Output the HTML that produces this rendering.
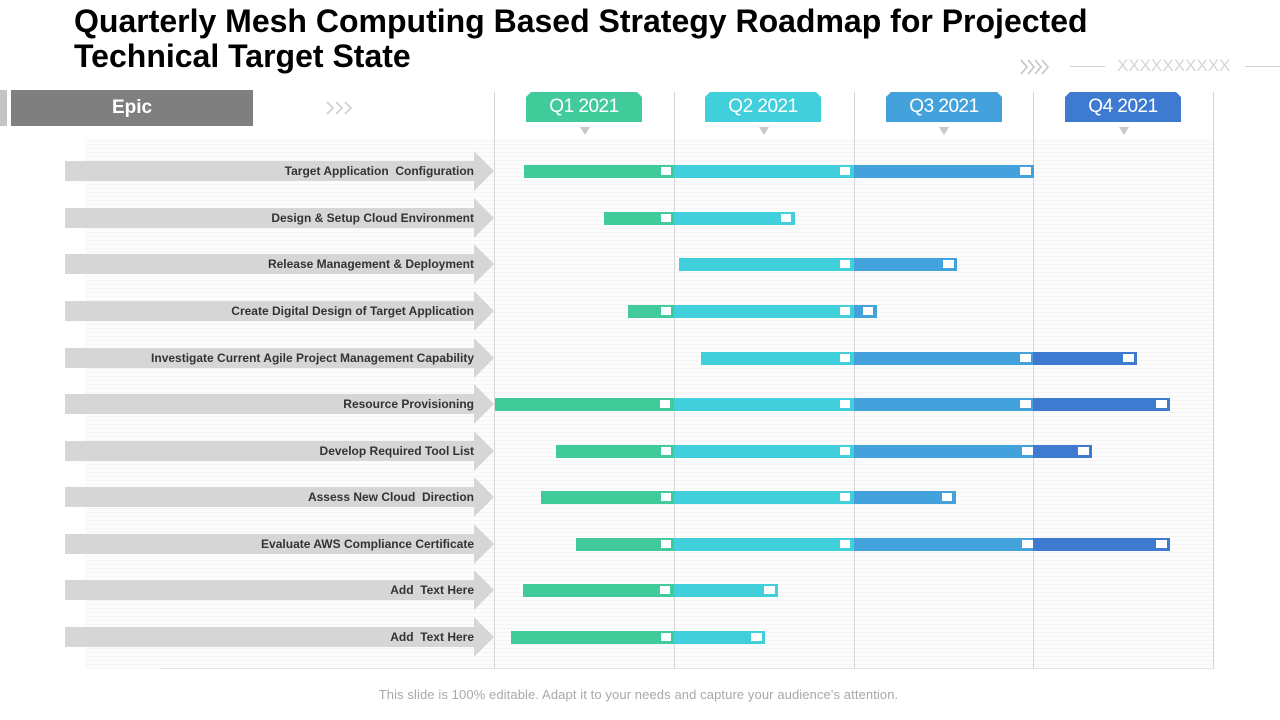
<!DOCTYPE html>
<html><head><meta charset="utf-8"><style>
*{margin:0;padding:0;box-sizing:border-box}
body{width:1280px;height:720px;background:#fff;position:relative;overflow:hidden;font-family:"Liberation Sans",Arial,sans-serif}
.abs{position:absolute}
.title{left:74px;top:4px;font-size:32px;font-weight:bold;line-height:35px;color:#000;white-space:nowrap}
.bg{left:85px;top:140px;width:1128px;height:529px;background:repeating-linear-gradient(180deg,#f5f5f5 0px,#f5f5f5 1px,#fcfcfc 1px,#fcfcfc 4px);}
.vl{width:1px;top:92px;height:577px;background:#d6d6d6}
.q{top:92px;width:116px;height:30px;color:#fff;font-size:19px;text-align:center;line-height:30px;clip-path:polygon(5px 0,calc(100% - 5px) 0,100% 5px,100% 100%,0 100%,0 5px);letter-spacing:-0.5px}
.tri{top:127px;width:0;height:0;border-left:5px solid transparent;border-right:5px solid transparent;border-top:8px solid #c8c8c8}
.lbar{left:65px;width:409px;height:20px;background:#d6d6d6}
.lhead{left:474px;width:0;height:0;border-top:20px solid transparent;border-bottom:20px solid transparent;border-left:20px solid #d6d6d6}
.ltxt{right:806px;font-size:12px;font-weight:bold;color:#333;white-space:pre;line-height:20px;text-align:right}
.seg{height:13px}
.mk{height:8px;background:#fff}
</style></head><body>
<div class="abs title">Quarterly Mesh Computing Based Strategy Roadmap for Projected<br>Technical Target State</div>

<!-- top right decoration -->
<svg class="abs" style="left:1018px;top:58px" width="38" height="18" viewBox="0 0 38 18">
<g fill="none" stroke="#c4c4c4" stroke-width="1.6">
<polyline points="3,2 9,9 3,16"/><polyline points="10,2 16,9 10,16"/><polyline points="17,2 23,9 17,16"/><polyline points="24,2 30,9 24,16"/>
</g></svg>
<div class="abs" style="left:1070px;top:66px;width:35px;height:1px;background:#d0d0d0"></div>
<div class="abs" style="left:1117px;top:56px;font-size:17px;color:#d6d6d6;letter-spacing:0px">XXXXXXXXXX</div>
<div class="abs" style="left:1245px;top:66px;width:35px;height:1px;background:#d0d0d0"></div>

<!-- Epic header -->
<div class="abs" style="left:0;top:90px;width:7px;height:36px;background:#c4c4c4"></div>
<div class="abs" style="left:11px;top:90px;width:242px;height:36px;background:#7f7f7f;color:#fff;font-weight:bold;font-size:19px;text-align:center;line-height:36px">Epic</div>
<svg class="abs" style="left:325px;top:100px" width="34" height="16" viewBox="0 0 34 16">
<g fill="none" stroke="#d0d0d0" stroke-width="1.6">
<polyline points="2,2 8,8 2,14"/><polyline points="11,2 17,8 11,14"/><polyline points="20,2 26,8 20,14"/>
</g></svg>

<div class="abs bg"></div>
<div class="abs" style="left:160px;top:668px;width:1054px;height:1px;background:#e6e6e6"></div>

<div class="abs vl" style="left:494px"></div>
<div class="abs vl" style="left:674px"></div>
<div class="abs vl" style="left:854px"></div>
<div class="abs vl" style="left:1033px"></div>
<div class="abs vl" style="left:1213px"></div>

<div class="abs q" style="left:526px;background:#41CA9A">Q1 2021</div>
<div class="abs q" style="left:705px;background:#40CFDB">Q2 2021</div>
<div class="abs q" style="left:886px;background:#43A2DC">Q3 2021</div>
<div class="abs q" style="left:1065px;background:#3E7AD0">Q4 2021</div>
<div class="abs tri" style="left:580px"></div>
<div class="abs tri" style="left:759px"></div>
<div class="abs tri" style="left:939px"></div>
<div class="abs tri" style="left:1119px"></div>

<div class="abs" style="left:0;width:1277px;top:687px;text-align:center;font-size:13px;color:#a8a8a8;letter-spacing:0.1px">This slide is 100% editable. Adapt it to your needs and capture your audience's attention.</div>

<!-- Rows -->
<div class="abs lbar" style="top:161px"></div><div class="abs lhead" style="top:151px"></div><div class="abs ltxt" style="top:161px">Target Application  Configuration</div>
<div class="abs lbar" style="top:208px"></div><div class="abs lhead" style="top:198px"></div><div class="abs ltxt" style="top:208px">Design &amp; Setup Cloud Environment</div>
<div class="abs lbar" style="top:254px"></div><div class="abs lhead" style="top:244px"></div><div class="abs ltxt" style="top:254px">Release Management &amp; Deployment</div>
<div class="abs lbar" style="top:301px"></div><div class="abs lhead" style="top:291px"></div><div class="abs ltxt" style="top:301px">Create Digital Design of Target Application</div>
<div class="abs lbar" style="top:348px"></div><div class="abs lhead" style="top:338px"></div><div class="abs ltxt" style="top:348px">Investigate Current Agile Project Management Capability</div>
<div class="abs lbar" style="top:394px"></div><div class="abs lhead" style="top:384px"></div><div class="abs ltxt" style="top:394px">Resource Provisioning</div>
<div class="abs lbar" style="top:441px"></div><div class="abs lhead" style="top:431px"></div><div class="abs ltxt" style="top:441px">Develop Required Tool List</div>
<div class="abs lbar" style="top:487px"></div><div class="abs lhead" style="top:477px"></div><div class="abs ltxt" style="top:487px">Assess New Cloud  Direction</div>
<div class="abs lbar" style="top:534px"></div><div class="abs lhead" style="top:524px"></div><div class="abs ltxt" style="top:534px">Evaluate AWS Compliance Certificate</div>
<div class="abs lbar" style="top:580px"></div><div class="abs lhead" style="top:570px"></div><div class="abs ltxt" style="top:580px">Add  Text Here</div>
<div class="abs lbar" style="top:627px"></div><div class="abs lhead" style="top:617px"></div><div class="abs ltxt" style="top:627px">Add  Text Here</div>

<!-- row1 -->
<div class="abs seg" style="top:165px;left:524px;width:150px;background:#41CA9A"></div>
<div class="abs seg" style="top:165px;left:674px;width:180px;background:#40CFDB"></div>
<div class="abs seg" style="top:165px;left:854px;width:180px;background:#43A2DC"></div>
<div class="abs mk" style="top:167px;left:661px;width:10px"></div>
<div class="abs mk" style="top:167px;left:840px;width:10px"></div>
<div class="abs mk" style="top:167px;left:1020px;width:11px"></div>

<!-- row2 -->
<div class="abs seg" style="top:212px;left:604px;width:70px;background:#41CA9A"></div>
<div class="abs seg" style="top:212px;left:674px;width:121px;background:#40CFDB"></div>
<div class="abs mk" style="top:214px;left:661px;width:10px"></div>
<div class="abs mk" style="top:214px;left:781px;width:10px"></div>

<!-- row3 -->
<div class="abs seg" style="top:258px;left:679px;width:175px;background:#40CFDB"></div>
<div class="abs seg" style="top:258px;left:854px;width:103px;background:#43A2DC"></div>
<div class="abs mk" style="top:260px;left:840px;width:10px"></div>
<div class="abs mk" style="top:260px;left:943px;width:11px"></div>

<!-- row4 -->
<div class="abs seg" style="top:305px;left:628px;width:46px;background:#41CA9A"></div>
<div class="abs seg" style="top:305px;left:674px;width:180px;background:#40CFDB"></div>
<div class="abs seg" style="top:305px;left:854px;width:23px;background:#43A2DC"></div>
<div class="abs mk" style="top:307px;left:661px;width:10px"></div>
<div class="abs mk" style="top:307px;left:840px;width:10px"></div>
<div class="abs mk" style="top:307px;left:863px;width:10px"></div>

<!-- row5 -->
<div class="abs seg" style="top:352px;left:701px;width:153px;background:#40CFDB"></div>
<div class="abs seg" style="top:352px;left:854px;width:179px;background:#43A2DC"></div>
<div class="abs seg" style="top:352px;left:1033px;width:104px;background:#3E7AD0"></div>
<div class="abs mk" style="top:354px;left:840px;width:10px"></div>
<div class="abs mk" style="top:354px;left:1020px;width:11px"></div>
<div class="abs mk" style="top:354px;left:1123px;width:11px"></div>

<!-- row6 -->
<div class="abs seg" style="top:398px;left:495px;width:179px;background:#41CA9A"></div>
<div class="abs seg" style="top:398px;left:674px;width:180px;background:#40CFDB"></div>
<div class="abs seg" style="top:398px;left:854px;width:179px;background:#43A2DC"></div>
<div class="abs seg" style="top:398px;left:1033px;width:137px;background:#3E7AD0"></div>
<div class="abs mk" style="top:400px;left:660px;width:10px"></div>
<div class="abs mk" style="top:400px;left:840px;width:10px"></div>
<div class="abs mk" style="top:400px;left:1020px;width:11px"></div>
<div class="abs mk" style="top:400px;left:1156px;width:11px"></div>

<!-- row7 -->
<div class="abs seg" style="top:445px;left:556px;width:118px;background:#41CA9A"></div>
<div class="abs seg" style="top:445px;left:674px;width:180px;background:#40CFDB"></div>
<div class="abs seg" style="top:445px;left:854px;width:179px;background:#43A2DC"></div>
<div class="abs seg" style="top:445px;left:1033px;width:59px;background:#3E7AD0"></div>
<div class="abs mk" style="top:447px;left:661px;width:10px"></div>
<div class="abs mk" style="top:447px;left:840px;width:10px"></div>
<div class="abs mk" style="top:447px;left:1022px;width:11px"></div>
<div class="abs mk" style="top:447px;left:1078px;width:11px"></div>

<!-- row8 -->
<div class="abs seg" style="top:491px;left:541px;width:133px;background:#41CA9A"></div>
<div class="abs seg" style="top:491px;left:674px;width:180px;background:#40CFDB"></div>
<div class="abs seg" style="top:491px;left:854px;width:102px;background:#43A2DC"></div>
<div class="abs mk" style="top:493px;left:661px;width:10px"></div>
<div class="abs mk" style="top:493px;left:840px;width:10px"></div>
<div class="abs mk" style="top:493px;left:942px;width:10px"></div>

<!-- row9 -->
<div class="abs seg" style="top:538px;left:576px;width:98px;background:#41CA9A"></div>
<div class="abs seg" style="top:538px;left:674px;width:180px;background:#40CFDB"></div>
<div class="abs seg" style="top:538px;left:854px;width:179px;background:#43A2DC"></div>
<div class="abs seg" style="top:538px;left:1033px;width:137px;background:#3E7AD0"></div>
<div class="abs mk" style="top:540px;left:661px;width:10px"></div>
<div class="abs mk" style="top:540px;left:840px;width:10px"></div>
<div class="abs mk" style="top:540px;left:1022px;width:11px"></div>
<div class="abs mk" style="top:540px;left:1156px;width:11px"></div>

<!-- row10 -->
<div class="abs seg" style="top:584px;left:523px;width:151px;background:#41CA9A"></div>
<div class="abs seg" style="top:584px;left:674px;width:104px;background:#40CFDB"></div>
<div class="abs mk" style="top:586px;left:660px;width:10px"></div>
<div class="abs mk" style="top:586px;left:764px;width:11px"></div>

<!-- row11 -->
<div class="abs seg" style="top:631px;left:511px;width:163px;background:#41CA9A"></div>
<div class="abs seg" style="top:631px;left:674px;width:91px;background:#40CFDB"></div>
<div class="abs mk" style="top:633px;left:661px;width:10px"></div>
<div class="abs mk" style="top:633px;left:751px;width:11px"></div>
</body></html>
